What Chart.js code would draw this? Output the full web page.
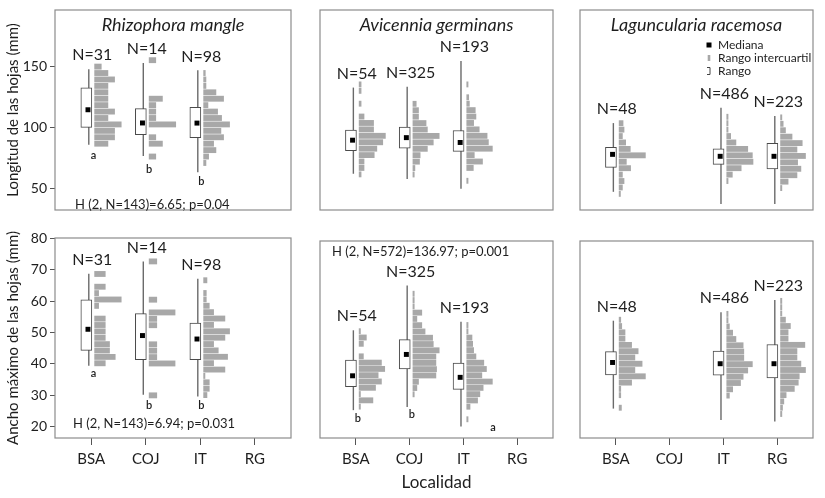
<!DOCTYPE html>
<html>
<head>
<meta charset="utf-8">
<script src="https://cdn.jsdelivr.net/npm/chart.js@4.4.0/dist/chart.umd.min.js"></script>
<style>
html, body { margin: 0; padding: 0; background: #fff; }
#wrap { position: relative; width: 825px; height: 498px; overflow: hidden; }
.panel { position: absolute; }
</style>
</head>
<body>
<div id="wrap"></div>
<script>
const sitios = ['BSA', 'COJ', 'IT', 'RG'];
const especies = ['Rhizophora mangle', 'Avicennia germinans', 'Laguncularia racemosa'];
const leyenda = ['Mediana', 'Rango intercuartil', 'Rango'];

// Longitud de las hojas (mm) - [especie][sitio], null = sin muestra
const longN   = [[31, 14, 98, null], [54, 325, 193, null], [48, null, 486, 223]];
const longMin = [[85.8, 76.6, 63.2, null], [61.9, 57.6, 49.6, null], [47, null, 37, 37]];
const longQ1  = [[100.2, 94.1, 91.7, null], [81, 83, 80.3, null], [67.2, null, 69.6, 65.8]];
const longMed = [[114.7, 103.8, 103.7, null], [89.6, 91.7, 87.7, null], [77.9, null, 76.3, 76.3]];
const longQ3  = [[132.8, 115.6, 116.6, null], [97.9, 100.5, 97.6, null], [83.7, null, 82.4, 86.9]];
const longMax = [[148.2, 153.2, 147.2, null], [133, 133.6, 155, null], [103.7, null, 116.3, 109.6]];
// histogramas: centro de la clase superior y frecuencias de arriba hacia abajo
const longHistTop = [[150.3, 155.6, 145, null], [135.6, 119.6, 135.6, null], [103.6, null, 108.9, 108.4]];
const longHist = [
  [[1, 2, 3, 2, 2, 2, 2, 3, 2, 4, 3, 3, 2],
   [1, 0, 0, 0, 0, 0, 2, 1, 1, 1, 4, 0, 1, 2, 0, 1],
   [0.25, 0.35, 0.35, 1.85, 3.0, 0.65, 2.1, 2.7, 3.9, 2.6, 3.0, 1.5, 1.85, 0.75, 0.35],
   null],
  [[0.3, 0.3, 0, 0.3, 0, 0.75, 2.2, 2.2, 4.0, 3.6, 2.7, 2.3, 0.75, 0.75, 0.3],
   [0.5, 0.85, 0.85, 2.0, 2.2, 4.0, 3.1, 2.2, 1.1, 1.0, 0.3, 0.2],
   [0.2, 0, 0.3, 0.4, 1.3, 1.4, 1.05, 1.9, 3.1, 3.3, 3.9, 1.15, 2.4, 1.0, 0, 0.2],
   null],
  [[0.6, 0.75, 0.5, 1.0, 1.7, 4.0, 1.1, 1.75, 0.5, 0.75, 0.5, 0.2],
   null,
   [0.2, 0.2, 0.2, 0.6, 1.4, 3.2, 3.9, 4.0, 2.2, 0.85, 0.2],
   [0.2, 0.4, 0.75, 1.75, 3.3, 2.5, 3.8, 2.6, 3.1, 2.5, 1.15, 0.2]]
];
const longLetras = [[0, 0.04, 76.8, 'a'], [0, 1.06, 65.6, 'b'], [0, 2.02, 55.2, 'b']];
const longPrueba = ['H (2, N=143)=6.65; p=0.04', null, null];

// Ancho máximo de las hojas (mm)
const anchoN   = [[31, 14, 98, null], [54, 325, 193, null], [48, null, 486, 223]];
const anchoMin = [[39.4, 30.2, 29.6, null], [25.4, 26.4, 20.1, null], [25.9, null, 22.2, 21.7]];
const anchoQ1  = [[44.3, 41.3, 41.3, null], [33, 38.7, 32.1, null], [36.8, null, 36.7, 35.8]];
const anchoMed = [[51, 49, 47.9, null], [36.5, 43.4, 36, null], [40.8, null, 40.4, 40.4]];
const anchoQ3  = [[60.4, 56, 53, null], [41.6, 48.2, 40.6, null], [44.3, null, 44.5, 46.6]];
const anchoMax = [[68.7, 72.6, 67.1, null], [51.2, 65.7, 54, null], [54.3, null, 57, 61]];
const anchoHistTop = [[68.6, 72.6, 66.6, null], [50.9, 63.0, 52.9, null], [54.6, null, 56.5, 60.7]];
const anchoHist = [
  [[1.6, 0, 1.6, 0.6, 4.0, 0.6, 0, 1.6, 1.6, 1.6, 1.6, 2.24, 2.24, 3.1, 1.6],
   [1.15, 0, 0, 0, 0, 0, 1.15, 0, 3.9, 1.15, 1.15, 0, 0, 1.15, 1.15, 1.15, 3.9, 0, 0, 0, 0, 1.15],
   [0.5, 0, 0.4, 0.4, 0.85, 1.5, 3.2, 1.5, 3.9, 3.2, 1.5, 2.2, 3.6, 1.5, 3.2, 0.2, 0.85, 0.85, 0.5],
   null],
  [[0.2, 1.1, 0.65, 0, 0.65, 3.4, 3.9, 2.9, 3.4, 2.5, 0.2, 2.1, 0.2],
   [0.2, 0.2, 0.2, 1.35, 0.6, 1.35, 1.85, 3.0, 3.1, 4.0, 3.5, 3.5, 3.6, 3.5, 0.85, 0.6, 0.2],
   [0.2, 0.2, 0.8, 0.9, 1.05, 1.4, 2.6, 3.0, 2.3, 3.9, 2.5, 2.0, 1.65, 0.5, 0, 0.2],
   null],
  [[0.25, 0.4, 0.9, 0.9, 1.9, 2.9, 2.4, 3.5, 2.4, 4.0, 1.9, 0.25, 0.25, 0, 0.35],
   null,
   [0.2, 0.2, 0.4, 0.9, 1.4, 2.5, 2.6, 2.6, 3.9, 3.2, 2.5, 2.1, 0.9, 0.4],
   [0.2, 0.2, 0.2, 0.75, 1.5, 1.15, 1.15, 3.7, 2.5, 2.5, 3.1, 3.8, 2.85, 2.7, 2.1, 0.85, 0.5, 0.3, 0.2]]
];
const anchoLetras = [[0, 0.04, 36.8, 'a'], [0, 1.06, 26.7, 'b'], [0, 2.02, 26.7, 'b'],
                     [1, 0.04, 22.7, 'b'], [1, 1.04, 24, 'b'], [1, 2.55, 19.9, 'a']];
const anchoPrueba = ['H (2, N=143)=6.94; p=0.031', 'H (2, N=572)=136.97; p=0.001', null];

const FONT = 'Lato, "Open Sans", sans-serif';
const TXT = '#1e1e1e';
const FREQ_X = 0.122;
const HIST_OFF = 0.062, BOX_OFF = -0.09, WHISK_OFF = -0.045, MED_OFF = -0.06;

const filas = {
  long: {n: longN, min: longMin, q1: longQ1, med: longMed, q3: longQ3, max: longMax,
         top: longHistTop, hist: longHist, bin: 5.3, yMin: 32, yMax: 197, ticks: [50, 100, 150],
         titulo: 'Longitud de las hojas (mm)', letras: longLetras, prueba: longPrueba},
  ancho: {n: anchoN, min: anchoMin, q1: anchoQ1, med: anchoMed, q3: anchoQ3, max: anchoMax,
          top: anchoHistTop, hist: anchoHist, bin: 2.03, yMin: 16.4, yMax: 80.05, ticks: [20, 30, 40, 50, 60, 70, 80],
          titulo: 'Ancho máximo de las hojas (mm)', letras: anchoLetras, prueba: anchoPrueba}
};

// pad = margen superior del lienzo sobre el marco
const paneles = [
  {fila: 'long', sp: 0, left: 0, top: 6, w: 295, h: 208, pad: 1, prueba: [20, 195]},
  {fila: 'long', sp: 1, left: 316, top: 6, w: 241, h: 208, pad: 1},
  {fila: 'long', sp: 2, left: 576, top: 6, w: 241, h: 208, pad: 1, leyenda: true},
  {fila: 'ancho', sp: 0, left: 0, top: 220, w: 295, h: 278, pad: 18, prueba: [18, 186]},
  {fila: 'ancho', sp: 1, left: 316, top: 237, w: 241, h: 261, pad: 1, prueba: [12, 11], titulo: 'Localidad'},
  {fila: 'ancho', sp: 2, left: 576, top: 237, w: 241, h: 261, pad: 1}
];

function decoracion(p) {
  const f = filas[p.fila];
  return {
    id: 'decoracion',
    afterDraw(chart) {
      const {ctx, chartArea: a} = chart;
      const x = chart.scales.x, y = chart.scales.y;
      ctx.save();
      ctx.strokeStyle = '#8c8c8c';
      ctx.lineWidth = 1.2;
      ctx.strokeRect(a.left, a.top, a.right - a.left, a.bottom - a.top);
      ctx.fillStyle = TXT;
      ctx.textAlign = 'center';
      ctx.textBaseline = 'middle';
      if (p.fila === 'long') {
        ctx.font = 'italic 18px ' + FONT;
        ctx.fillText(especies[p.sp], (a.left + a.right) / 2, a.top + 15);
      }
      ctx.font = '16px ' + FONT;
      for (let s = 0; s < sitios.length; s++) {
        const n = f.n[p.sp][s];
        if (n == null) continue;
        ctx.fillText('N=' + n, x.getPixelForValue(s + 0.02), y.getPixelForValue(f.max[p.sp][s]) - 14);
      }
      ctx.font = '600 11px ' + FONT;
      f.letras.filter(l => l[0] === p.sp).forEach(l => {
        ctx.fillText(l[3], x.getPixelForValue(l[1]), y.getPixelForValue(l[2]));
      });
      const txt = f.prueba[p.sp];
      if (txt) {
        ctx.font = '13px ' + FONT;
        ctx.textAlign = 'left';
        ctx.fillText(txt, a.left + p.prueba[0], a.top + p.prueba[1]);
      }
      if (p.leyenda) {
        const lx = a.left + 129, ly = a.top + 35;
        ctx.fillStyle = '#000';
        ctx.fillRect(lx - 2.5, ly - 2.5, 5, 5);
        ctx.fillStyle = '#a8a8a8';
        ctx.fillRect(lx - 1.3, ly + 10, 2.6, 6);
        ctx.strokeStyle = '#444';
        ctx.lineWidth = 1;
        ctx.beginPath();
        ctx.moveTo(lx - 2, ly + 22.5);
        ctx.lineTo(lx + 1, ly + 22.5);
        ctx.lineTo(lx + 1, ly + 29.5);
        ctx.lineTo(lx - 2, ly + 29.5);
        ctx.stroke();
        ctx.fillStyle = TXT;
        ctx.font = '12px ' + FONT;
        ctx.textAlign = 'left';
        leyenda.forEach((t, i) => ctx.fillText(t, lx + 9, ly + i * 13));
      }
      ctx.restore();
    }
  };
}

function sinRelleno(s) {
  s.paddingTop = 0;
  s.paddingBottom = 0;
  s.paddingLeft = 0;
  s.paddingRight = 0;
}

function crearPanel(p) {
  const f = filas[p.fila];
  const sp = p.sp;
  const izquierda = sp === 0;
  const abajo = p.fila === 'ancho';
  const div = document.createElement('div');
  div.className = 'panel';
  div.style.left = p.left + 'px';
  div.style.top = p.top + 'px';
  const canvas = document.createElement('canvas');
  canvas.width = p.w;
  canvas.height = p.h;
  canvas.style.width = p.w + 'px';
  canvas.style.height = p.h + 'px';
  div.appendChild(canvas);
  document.getElementById('wrap').appendChild(div);

  const datasets = [];
  for (let s = 0; s < sitios.length; s++) {
    if (f.n[sp][s] == null) continue;
    const top = f.top[sp][s];
    const hist = f.hist[sp][s]
      .map((v, i) => ({y: top - i * f.bin, x: [s + HIST_OFF, s + HIST_OFF + v * FREQ_X]}))
      .filter((d, i) => f.hist[sp][s][i] > 0);
    datasets.push({type: 'bar', indexAxis: 'y', data: hist, backgroundColor: '#a8a8a8',
      borderWidth: 0, barThickness: 5.2, grouped: false, order: 3});
    datasets.push({type: 'line', data: [{x: s + WHISK_OFF, y: f.min[sp][s]}, {x: s + WHISK_OFF, y: f.max[sp][s]}],
      borderColor: '#6a6a6a', borderWidth: 1.4, pointRadius: 0, order: 2});
    datasets.push({type: 'bar', data: [{x: s + BOX_OFF, y: [f.q1[sp][s], f.q3[sp][s]]}],
      backgroundColor: '#fff', borderColor: '#4a4a4a', borderWidth: 1, borderSkipped: false,
      barThickness: 11, grouped: false, order: 1});
    datasets.push({type: 'scatter', data: [{x: s + MED_OFF, y: f.med[sp][s]}], pointStyle: 'rect',
      pointRadius: 3.5, backgroundColor: '#000', borderWidth: 0, order: 0});
  }

  new Chart(canvas, {
    type: 'bar',
    data: {datasets: datasets},
    options: {
      responsive: false,
      animation: false,
      events: [],
      layout: {padding: {top: p.pad, right: 2, bottom: abajo ? 0 : 1, left: izquierda ? 0 : 1}},
      plugins: {legend: {display: false}, tooltip: {enabled: false}},
      scales: {
        x: {
          type: 'linear', min: -0.665, max: 3.665, offset: false, display: abajo,
          border: {display: false},
          grid: {offset: false, drawOnChartArea: false, tickLength: 7, color: '#555'},
          afterBuildTicks: s => { s.ticks = sitios.map((_, i) => ({value: i})); },
          afterFit: s => { s.height = abajo ? 60 : 0; sinRelleno(s); },
          ticks: {callback: (v, i) => sitios[i], autoSkip: false, maxRotation: 0, padding: 5,
                  color: TXT, font: {family: FONT, size: 15}},
          title: {display: !!p.titulo, text: p.titulo || '', color: TXT,
                  font: {family: FONT, size: 17}, padding: {top: 0, bottom: 5}}
        },
        y: {
          type: 'linear', min: f.yMin, max: f.yMax, offset: false, display: izquierda,
          border: {display: false},
          grid: {offset: false, drawOnChartArea: false, tickLength: 5, color: '#555'},
          afterBuildTicks: s => { s.ticks = f.ticks.map(v => ({value: v})); },
          afterFit: s => { s.width = izquierda ? 55 : 0; sinRelleno(s); },
          ticks: {padding: 3, color: TXT, font: {family: FONT, size: 14}},
          title: {display: true, text: f.titulo, color: TXT,
                  font: {family: FONT, size: 15}, padding: {top: 4, bottom: 0}}
        }
      }
    },
    plugins: [decoracion(p)]
  });
}

paneles.forEach(crearPanel);
</script>
</body>
</html>
